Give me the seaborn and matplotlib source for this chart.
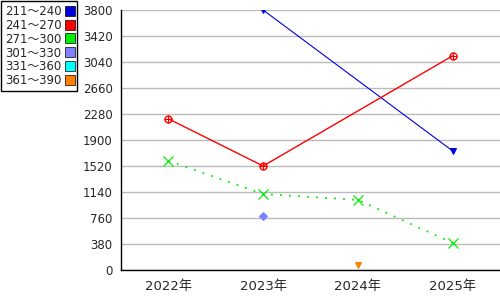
import matplotlib
matplotlib.use("Agg")
import matplotlib.pyplot as plt
import seaborn as sns
import numpy as np
import pandas as pd
from matplotlib.lines import Line2D

years = ["2022年", "2023年", "2024年", "2025年"]
s_211_240 = [np.nan, 3800, np.nan, 1740]
s_241_270 = [2210, 1520, np.nan, 3130]
s_271_300 = [1595, 1110, 1025, 395]
s_301_330 = [np.nan, 790, np.nan, np.nan]
s_331_360 = [np.nan, np.nan, np.nan, np.nan]
s_361_390 = [np.nan, np.nan, 75, np.nan]
series_names = ["211～240", "241～270", "271～300", "301～330", "331～360", "361～390"]
yticks = [0, 380, 760, 1140, 1520, 1900, 2280, 2660, 3040, 3420, 3800]

colors = ["#0000dd", "#ff0000", "#00ee00", "#8080ff", "#00ffff", "#ff8000"]
markers = ["v", "o", "x", "D", "s", "v"]
styles = ["-", "-", (0, (1, 4)), "-", "-", "-"]

sns.set_style("white")
plt.rcParams['font.family'] = ['DejaVu Sans', 'Noto Sans CJK JP']

fig = plt.figure(figsize=(5, 3), dpi=100)
ax = fig.add_axes([121/500, 30/300, 379/500, 260/300])

all_series = [s_211_240, s_241_270, s_271_300, s_301_330, s_331_360, s_361_390]
x = np.arange(len(years))
for name, vals, c, m, ls in zip(series_names, all_series, colors, markers, styles):
    df = pd.DataFrame({"x": x, "y": vals}).dropna()
    if df.empty:
        continue
    if m == "o":
        sns.lineplot(data=df, x="x", y="y", ax=ax, color=c, linestyle=ls, linewidth=1,
                     marker="o", markersize=5, markerfacecolor="none", markeredgecolor=c,
                     markeredgewidth=1)
        sns.scatterplot(data=df, x="x", y="y", ax=ax, color=c, marker="+", s=30, linewidth=0.8, zorder=5)
    elif m == "x":
        sns.lineplot(data=df, x="x", y="y", ax=ax, color=c, linestyle=ls, linewidth=1.3,
                     marker="x", markersize=6.5, markeredgecolor=c, markeredgewidth=0.9)
    else:
        sns.lineplot(data=df, x="x", y="y", ax=ax, color=c, linestyle=ls, linewidth=0.8,
                     marker=m, markersize=4.5, markeredgecolor=c)

ax.set_xlim(-0.5, 3.5)
ax.set_ylim(0, 3800)
ax.set_yticks(yticks)
ax.set_yticklabels([str(t) for t in yticks], fontsize=8.5)
ax.set_xticks(x)
ax.set_xticklabels(years, fontsize=9.5)
ax.set_xticks([-0.5, 0.5, 1.5, 2.5], minor=True)
ax.tick_params(axis="x", which="major", length=0, pad=7)
ax.tick_params(axis="x", which="minor", length=6, width=1, color="black", direction="out")
ax.tick_params(axis="y", length=4, width=1, color="black", direction="out", pad=2)
ax.set_xlabel("")
ax.set_ylabel("")
ax.grid(axis="y", color="#bbbbbb", linewidth=1)
ax.set_axisbelow(True)
for s in ["top", "right"]:
    ax.spines[s].set_visible(False)
for s in ["left", "bottom"]:
    ax.spines[s].set_color("black")
    ax.spines[s].set_linewidth(1)

handles = [Line2D([0], [0], marker="s", color="none", markerfacecolor=c,
                  markeredgecolor="black", markeredgewidth=0.5, markersize=7) for c in colors]
leg = fig.legend(handles, series_names, loc="upper left", bbox_to_anchor=(0.0, 1.0),
                 markerfirst=False, fontsize=8.5, frameon=True, fancybox=False,
                 edgecolor="black", framealpha=1, borderpad=0.3, labelspacing=0.08,
                 handlelength=0.7, handletextpad=0.35, borderaxespad=0.1)
leg.get_frame().set_linewidth(1)

fig.savefig("out.png", dpi=100)
